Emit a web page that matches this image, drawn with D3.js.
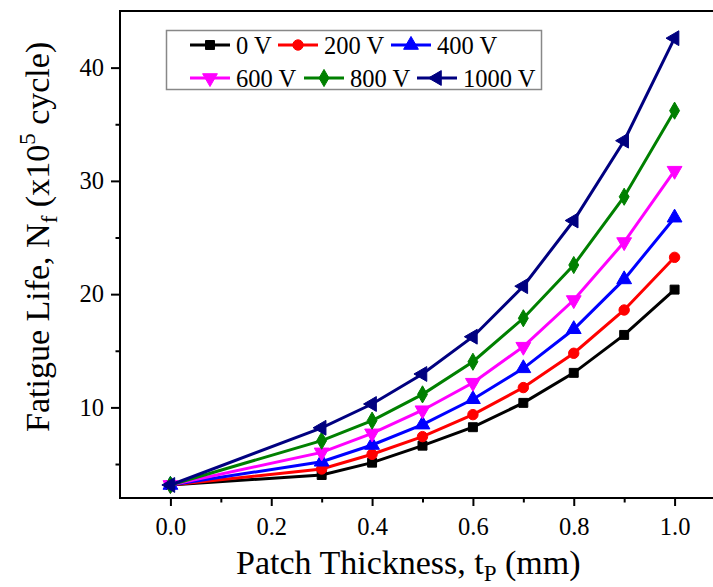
<!DOCTYPE html>
<html>
<head>
<meta charset="utf-8">
<script src="https://cdn.jsdelivr.net/npm/d3@7"></script>
<style>
  body { margin: 0; background: #fff; }
  svg { display: block; font-family: "Liberation Serif", "Times New Roman", serif; }
</style>
</head>
<body>
<div id="chart"></div>
<script>
// Patch thickness (mm)
const thickness = [0, 0.3, 0.4, 0.5, 0.6, 0.7, 0.8, 0.9, 1.0];

// Fatigue life (x10^5 cycle) per applied voltage
const v0    = [3.15, 4.03, 5.12, 6.62, 8.25, 10.4, 13.05, 16.4, 20.4];
const v200  = [3.15, 4.56, 5.86, 7.42, 9.36, 11.75, 14.78, 18.6, 23.25];
const v400  = [3.15, 5.2, 6.68, 8.48, 10.72, 13.45, 16.9, 21.3, 26.75];
const v600  = [3.15, 6.03, 7.71, 9.75, 12.18, 15.36, 19.48, 24.6, 30.9];
const v800  = [3.15, 7.06, 8.83, 11.15, 14.03, 17.87, 22.57, 28.6, 36.2];
const v1000 = [3.15, 8.2, 10.3, 12.95, 16.24, 20.7, 26.5, 33.55, 42.6];

const seriesNames = ["0 V", "200 V", "400 V", "600 V", "800 V", "1000 V"];
const seriesValues = [v0, v200, v400, v600, v800, v1000];

const xMajor = [0, 0.2, 0.4, 0.6, 0.8, 1.0];
const xMinor = [0.1, 0.3, 0.5, 0.7, 0.9];
const yMajor = [10, 20, 30, 40];
const yMinor = [5, 15, 25, 35];

// look of each series
const colors = ["#000000", "#ff0000", "#0000ff", "#ff00ff", "#008000", "#000080"];
const shapes = [
  { type: d3.symbolSquare, size: 80, rot: 0 },
  { type: d3.symbolCircle, size: 85, rot: 0 },
  { type: d3.symbolTriangle, size: 95, rot: 0 },
  { type: d3.symbolTriangle, size: 95, rot: 180 },
  { type: d3.symbolDiamond, size: 85, rot: 0 },
  { type: d3.symbolTriangle, size: 95, rot: -90 }
];

const W = 713, H = 587;
const plot = { left: 120, top: 11, right: 725, bottom: 498 };
const fontFam = "Liberation Serif";

const svg = d3.select("#chart").append("svg")
  .attr("width", W)
  .attr("height", H);

const x = d3.scaleLinear().domain([-0.1, 1.1]).range([plot.left, plot.right]);
const y = d3.scaleLinear().domain([2, 45]).range([plot.bottom, plot.top]);

// x axis (major + minor ticks, outward)
svg.append("g")
  .attr("transform", `translate(0,${plot.bottom})`)
  .call(d3.axisBottom(x).tickValues(xMajor).tickSize(8).tickPadding(11.5)
    .tickFormat(d3.format(".1f")))
  .call(g => g.select(".domain").remove())
  .call(g => g.selectAll("line").attr("stroke-width", 2))
  .call(g => g.selectAll("text").attr("font-size", 24.5).attr("fill", "#000")
    .attr("font-family", fontFam));

svg.append("g")
  .attr("transform", `translate(0,${plot.bottom})`)
  .call(d3.axisBottom(x).tickValues(xMinor).tickSize(4.5).tickFormat(""))
  .call(g => g.select(".domain").remove())
  .call(g => g.selectAll("line").attr("stroke-width", 2));

// y axis
svg.append("g")
  .attr("transform", `translate(${plot.left},0)`)
  .call(d3.axisLeft(y).tickValues(yMajor).tickSize(9).tickPadding(7))
  .call(g => g.select(".domain").remove())
  .call(g => g.selectAll("line").attr("stroke-width", 2))
  .call(g => g.selectAll("text").attr("font-size", 24.5).attr("fill", "#000")
    .attr("font-family", fontFam));

svg.append("g")
  .attr("transform", `translate(${plot.left},0)`)
  .call(d3.axisLeft(y).tickValues(yMinor).tickSize(4.5).tickFormat(""))
  .call(g => g.select(".domain").remove())
  .call(g => g.selectAll("line").attr("stroke-width", 2));

// frame
svg.append("rect")
  .attr("x", plot.left)
  .attr("y", plot.top)
  .attr("width", plot.right - plot.left)
  .attr("height", plot.bottom - plot.top)
  .attr("fill", "none")
  .attr("stroke", "#000")
  .attr("stroke-width", 2);

// series
const line = d3.line()
  .x((d, i) => x(thickness[i]))
  .y(d => y(d));

function marker(sel, s, color) {
  sel.attr("d", d3.symbol().type(s.type).size(s.size))
    .attr("fill", color)
    .attr("stroke", color)
    .attr("stroke-width", 1);
}

seriesValues.forEach((vals, k) => {
  svg.append("path")
    .datum(vals)
    .attr("d", line)
    .attr("fill", "none")
    .attr("stroke", colors[k])
    .attr("stroke-width", 3);

  svg.append("g").selectAll("path")
    .data(vals)
    .join("path")
    .attr("transform", (d, i) => `translate(${x(thickness[i])},${y(d)}) rotate(${shapes[k].rot})`)
    .call(marker, shapes[k], colors[k]);
});

// legend
const legend = svg.append("g");
legend.append("rect")
  .attr("x", 166.5).attr("y", 30.5)
  .attr("width", 375).attr("height", 59)
  .attr("fill", "#fff")
  .attr("stroke", "#888")
  .attr("stroke-width", 1.5);

const legendPos = [
  [190, 45], [278, 45], [391, 45],
  [190, 78], [304, 78], [417, 78]
];

seriesNames.forEach((name, k) => {
  const [lx, ly] = legendPos[k];
  const item = legend.append("g");
  item.append("line")
    .attr("x1", lx).attr("x2", lx + 40)
    .attr("y1", ly).attr("y2", ly)
    .attr("stroke", colors[k])
    .attr("stroke-width", 3);
  item.append("path")
    .attr("transform", `translate(${lx + 20},${ly}) rotate(${shapes[k].rot})`)
    .call(marker, shapes[k], colors[k]);
  item.append("text")
    .attr("x", lx + 46)
    .attr("y", ly + 8.5)
    .attr("font-size", 24.5)
    .text(name);
});

// axis titles
const xTitle = svg.append("text")
  .attr("x", 236)
  .attr("y", 574)
  .attr("text-anchor", "start")
  .attr("font-size", 34);
xTitle.append("tspan").text("Patch Thickness, t");
xTitle.append("tspan").attr("font-size", 23).attr("dy", 7).text("P");
xTitle.append("tspan").attr("dy", -7).text(" (mm)");

const yTitle = svg.append("text")
  .attr("transform", "translate(49,432) rotate(-90)")
  .attr("text-anchor", "start")
  .attr("font-size", 34);
yTitle.append("tspan").text("Fatigue Life, N");
yTitle.append("tspan").attr("font-size", 23).attr("dy", 8).text("f");
yTitle.append("tspan").attr("dy", -8).text(" (x10");
yTitle.append("tspan").attr("font-size", 23).attr("dy", -14).text("5");
yTitle.append("tspan").attr("dy", 14).text(" cycle)");
</script>
</body>
</html>
